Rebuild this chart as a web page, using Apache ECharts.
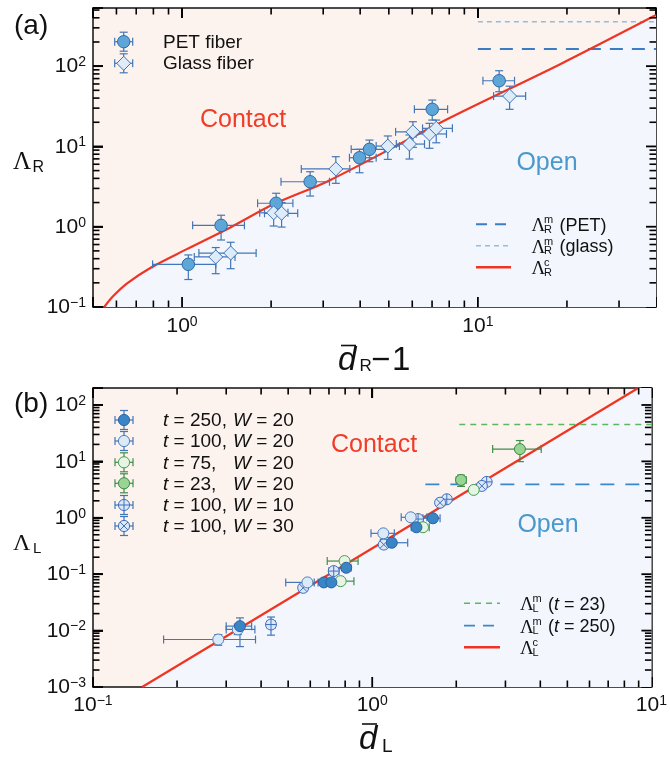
<!DOCTYPE html>
<html>
<head>
<meta charset="utf-8">
<script src="https://cdn.jsdelivr.net/npm/echarts@6/dist/echarts.min.js"></script>
<style>
html, body { margin: 0; padding: 0; background: #fff; }
#main { width: 670px; height: 757px; }
</style>
</head>
<body>
<div id="main"></div>
<script>
var SANS = 'Liberation Sans';
var SERIF = 'Liberation Serif';

// ---- panel (a) ----  [dR-1, LambdaR, xlo, xhi, ylo, yhi]
var petFiber = [
    [1.05, 0.34, 0.795, 1.30, 0.22, 0.445],
    [1.355, 1.04, 1.086, 1.625, 0.683, 1.39],
    [2.08, 1.96, 1.80, 2.37, 1.44, 2.61],
    [2.71, 3.63, 2.16, 3.15, 2.41, 4.84],
    [3.98, 7.23, 3.68, 4.53, 4.7, 9.2],
    [4.30, 9.2, 3.73, 4.83, 6.45, 12.0],
    [7.01, 29, 6.1, 7.9, 21.3, 37.8],
    [11.8, 65.8, 10.4, 13.3, 48, 87.7]
];
var glassFiber = [
    [1.30, 0.42, 1.10, 1.51, 0.26, 0.55],
    [1.46, 0.47, 1.14, 1.78, 0.30, 0.64],
    [2.04, 1.49, 1.83, 2.28, 1.02, 2.05],
    [2.17, 1.47, 1.90, 2.46, 0.99, 2.0],
    [3.31, 5.24, 2.53, 3.69, 3.47, 7.45],
    [4.96, 10.1, 4.53, 5.43, 6.9, 13.5],
    [5.87, 10.7, 5.3, 6.6, 6.97, 13.9],
    [6.03, 15.2, 5.27, 6.95, 9.75, 20.3],
    [6.86, 14.3, 6.18, 7.83, 9.48, 19.4],
    [7.23, 16.8, 6.5, 8.2, 11.1, 21.3],
    [12.8, 42.4, 11.3, 14.5, 29, 56.3]
];
// critical curve
var critA = [[0.546, 0.1], [0.581, 0.133], [0.652, 0.197], [0.786, 0.311], [1.034, 0.522],
    [1.457, 0.98], [2.037, 1.9], [3.15, 3.77], [8.02, 22.6], [18.9, 105], [40, 433]];
var maxPET = [[10, 163], [40, 163]];
var maxGlass = [[10, 357], [40, 357]];
var xRangeA = [0.5, 40];
var yRangeA = [0.1, 530];

// ---- panel (b) ----  [dL, LambdaL, xlo, xhi, ylo, yhi]
var t250w20 = [
    [0.336, 0.012, 0.30, 0.37, 0.0052, 0.0168],
    [0.671, 0.0715, 0.64, 0.70, 0.066, 0.077],
    [0.714, 0.0715, 0.68, 0.76, 0.066, 0.077],
    [0.807, 0.130, 0.78, 0.84, 0.12, 0.14],
    [1.175, 0.361, 1.07, 1.34, 0.33, 0.39],
    [1.44, 0.678, 1.38, 1.52, 0.63, 0.73],
    [1.65, 0.98, 1.52, 1.75, 0.91, 1.05]
];
var t100w20 = [
    [0.281, 0.00695, 0.179, 0.382, 0.0055, 0.0085],
    [0.33, 0.0105, 0.30, 0.38, 0.0085, 0.013],
    [0.586, 0.0715, 0.49, 0.62, 0.065, 0.078],
    [1.096, 0.53, 0.99, 1.20, 0.49, 0.57],
    [1.374, 1.02, 1.27, 1.57, 0.95, 1.1]
];
var t75w20 = [
    [0.771, 0.0753, 0.69, 0.86, 0.069, 0.082],
    [0.796, 0.171, 0.69, 0.89, 0.15, 0.19],
    [1.52, 0.68, 1.46, 1.60, 0.62, 0.74],
    [2.31, 3.12, 2.26, 2.36, 2.95, 3.3]
];
var t23w20 = [
    [2.08, 4.69, 2.0, 2.17, 3.6, 5.7],
    [3.38, 16.5, 2.70, 4.03, 9.9, 23.4]
];
var t100w10 = [
    [0.434, 0.0128, 0.42, 0.45, 0.0083, 0.0174],
    [0.728, 0.1135, 0.70, 0.76, 0.105, 0.122],
    [1.12, 0.361, 1.08, 1.16, 0.34, 0.38],
    [1.46, 0.95, 1.41, 1.51, 0.9, 1.0],
    [1.85, 2.13, 1.80, 1.90, 2.0, 2.26],
    [2.57, 4.33, 2.50, 2.64, 4.1, 4.6]
];
var t100w30 = [
    [0.566, 0.0573, 0.55, 0.58, 0.054, 0.061],
    [1.10, 0.335, 1.07, 1.13, 0.32, 0.35],
    [1.75, 1.85, 1.71, 1.80, 1.75, 1.95],
    [2.47, 3.67, 2.41, 2.53, 3.5, 3.85]
];
var critB = [[0.15, 0.001], [8.97, 200]];
var maxT23 = [[2.05, 45], [10, 45]];
var maxT250 = [[1.55, 3.9], [10, 3.9]];
var xRangeB = [0.1, 10];
var yRangeB = [0.001, 200];

// tick positions
var minorMult = [2, 3, 4, 5, 6, 7, 8, 9];
var decadesXA = [0.1, 1, 10];
var decadesYA = [0.1, 1, 10, 100];
var decadesXB = [0.1, 1];
var decadesYB = [0.001, 0.01, 0.1, 1, 10, 100];
var majorXA = [1, 10];
var majorYA = [1, 10, 100];
var majorXB = [1];
var majorYB = [0.01, 0.1, 1, 10, 100];

var RED = '#ee3524', PINK = '#fdf3ee', PALE = '#f3f7fd';
var BLUE_BAR = '#4276b8', GREEN_BAR = '#3f8c4c';

function minorTicks(decades, range) {
    var out = [];
    decades.forEach(function (d) {
        minorMult.forEach(function (m) {
            var v = m * d;
            if (v > range[0] * 1.0001 && v < range[1] * 0.9999) out.push(v);
        });
    });
    return out;
}

function powLabel(v) {
    var e = Math.round(Math.log(v) / Math.LN10);
    if (Math.abs(v / Math.pow(10, e) - 1) > 1e-6) return '';
    return '{b|10}{s|' + (e < 0 ? '\u2212' + (-e) : e) + '}';
}
var labelRich = {
    b: { fontSize: 21, fontFamily: SANS, color: '#111', verticalAlign: 'bottom', lineHeight: 22 },
    s: { fontSize: 14, fontFamily: SANS, color: '#111', verticalAlign: 'top', lineHeight: 14 }
};

function logAxis(grid, pos, range, labelMargin) {
    return {
        type: 'log', logBase: 10, gridIndex: grid, position: pos,
        min: range[0], max: range[1],
        axisLine: { show: true, onZero: false, lineStyle: { color: '#111', width: 1.5 } },
        axisTick: { show: true, inside: true, length: 10, lineStyle: { color: '#000', width: 1.8 } },
        minorTick: { show: false },
        splitLine: { show: false },
        axisLabel: labelMargin == null ? { show: false } : {
            show: true, margin: labelMargin, formatter: powLabel, rich: labelRich,
            showMinLabel: true, showMaxLabel: true
        }
    };
}

function errSeries(pts, color, gx, gy) {
    return {
        type: 'custom', xAxisIndex: gx, yAxisIndex: gy, silent: true, z: 3,
        data: pts, encode: { x: 0, y: 1 },
        renderItem: function (params, api) {
            var x = api.value(0), y = api.value(1), k = 4;
            var a = api.coord([api.value(2), y]), b = api.coord([api.value(3), y]);
            var c = api.coord([x, api.value(4)]), d = api.coord([x, api.value(5)]);
            function ln(x1, y1, x2, y2) {
                return { type: 'line', shape: { x1: x1, y1: y1, x2: x2, y2: y2 }, style: { stroke: color, lineWidth: 1.2 } };
            }
            return { type: 'group', children: [
                ln(a[0], a[1], b[0], b[1]), ln(a[0], a[1] - k, a[0], a[1] + k), ln(b[0], b[1] - k, b[0], b[1] + k),
                ln(c[0], c[1], d[0], d[1]), ln(c[0] - k, c[1], c[0] + k, c[1]), ln(d[0] - k, d[1], d[0] + k, d[1])
            ] };
        }
    };
}

function markSeries(pts, symbol, size, fill, edge, gx, gy) {
    return {
        type: 'scatter', xAxisIndex: gx, yAxisIndex: gy, symbol: symbol, symbolSize: size, z: 4, silent: true,
        data: pts.map(function (p) { return [p[0], p[1]]; }),
        itemStyle: { color: fill, borderColor: edge, borderWidth: 1, opacity: 1 }
    };
}

function hline(data, color, width, dash, gx, gy) {
    return {
        type: 'line', xAxisIndex: gx, yAxisIndex: gy, data: data, symbol: 'none', silent: true, z: 2,
        lineStyle: { color: color, width: width, type: dash }
    };
}

var plusSym = 'path://M10,0A10,10,0,1,1,10,20A10,10,0,1,1,10,0ZM0,10L20,10M10,0L10,20';
var crossSym = 'path://M10,0A10,10,0,1,1,10,20A10,10,0,1,1,10,0ZM2.93,2.93L17.07,17.07M2.93,17.07L17.07,2.93';

var series = [
    // panel (a)
    { type: 'line', xAxisIndex: 0, yAxisIndex: 0, data: critA, smooth: 0.3, symbol: 'none', silent: true, z: 1,
      lineStyle: { width: 0 }, areaStyle: { color: PALE, opacity: 1, origin: 'start' } },
    hline(maxPET, '#3b7dc4', 2, [13, 9], 0, 0),
    hline(maxGlass, '#8dbde6', 1.5, [5, 4], 0, 0),
    { type: 'line', xAxisIndex: 0, yAxisIndex: 0, data: critA, smooth: 0.3, symbol: 'none', silent: true, z: 2,
      lineStyle: { color: RED, width: 2.2 } },
    errSeries(petFiber, BLUE_BAR, 0, 0),
    errSeries(glassFiber, BLUE_BAR, 0, 0),
    markSeries(petFiber, 'circle', 12.5, '#5ea6d8', '#2f69a8', 0, 0),
    markSeries(glassFiber, 'diamond', 14, '#deebf8', '#3d74b8', 0, 0),
    // panel (b)
    { type: 'line', xAxisIndex: 2, yAxisIndex: 2, data: critB.concat([[xRangeB[1], yRangeB[1]]]), symbol: 'none',
      silent: true, z: 1, lineStyle: { width: 0 }, areaStyle: { color: PALE, opacity: 1, origin: 'start' } },
    hline(maxT23, '#5cb860', 1.6, [6, 5], 2, 2),
    hline(maxT250, '#3a88cc', 1.8, [14, 11], 2, 2),
    { type: 'line', xAxisIndex: 2, yAxisIndex: 2, data: critB, symbol: 'none', silent: true, z: 2,
      lineStyle: { color: RED, width: 2.2 } },
    errSeries(t100w10, BLUE_BAR, 2, 2),
    errSeries(t100w30, BLUE_BAR, 2, 2),
    errSeries(t100w20, BLUE_BAR, 2, 2),
    errSeries(t75w20, GREEN_BAR, 2, 2),
    errSeries(t23w20, GREEN_BAR, 2, 2),
    errSeries(t250w20, BLUE_BAR, 2, 2),
    markSeries(t100w10, plusSym, 11, '#dce8f6', '#3f6fc0', 2, 2),
    markSeries(t100w30, crossSym, 11, '#dce8f6', '#3f6fc0', 2, 2),
    markSeries(t100w20, 'circle', 11, '#dce9f7', '#4a7fc0', 2, 2),
    markSeries(t75w20, 'circle', 11, '#e5f5e1', '#4a9a58', 2, 2),
    markSeries(t23w20, 'circle', 11, '#98d492', '#3b8a46', 2, 2),
    markSeries(t250w20, 'circle', 11, '#3a85c5', '#2a62a4', 2, 2)
];

// ---- graphic texts / legends ----
function txt(x, y, text, size, family, color, opts) {
    opts = opts || {};
    return { type: 'text', x: x, y: y, silent: true, z: 100, style: {
        text: text, fontSize: size, fontFamily: family, fill: color || '#111',
        fontStyle: opts.italic ? 'italic' : 'normal',
        align: opts.align || 'left', verticalAlign: 'middle',
        textAlign: opts.align || 'left', textVerticalAlign: 'middle',
        rich: opts.rich
    } };
}
function seg(x1, y1, x2, y2, color, w, dash) {
    return { type: 'line', silent: true, z: 100, shape: { x1: x1, y1: y1, x2: x2, y2: y2 },
        style: { stroke: color, lineWidth: w, lineDash: dash || null } };
}
function legendMarker(cx, cy, kind, fill, edge, bar, r) {
    var k = 4, hx = 9, hy = 9.5;
    var g = [
        seg(cx - hx, cy, cx + hx, cy, bar, 1.2), seg(cx - hx, cy - k, cx - hx, cy + k, bar, 1.2),
        seg(cx + hx, cy - k, cx + hx, cy + k, bar, 1.2),
        seg(cx, cy - hy, cx, cy + hy, bar, 1.2), seg(cx - k, cy - hy, cx + k, cy - hy, bar, 1.2),
        seg(cx - k, cy + hy, cx + k, cy + hy, bar, 1.2)
    ];
    if (kind === 'diamond') {
        g.push({ type: 'polygon', silent: true, shape: { points: [[cx, cy - r], [cx + r, cy], [cx, cy + r], [cx - r, cy]] },
            style: { fill: fill, stroke: edge, lineWidth: 1 } });
    } else {
        g.push({ type: 'circle', silent: true, shape: { cx: cx, cy: cy, r: r },
            style: { fill: fill, stroke: edge, lineWidth: 1 } });
        var d = r * 0.707;
        if (kind === 'plus') {
            g.push(seg(cx - r, cy, cx + r, cy, edge, 1), seg(cx, cy - r, cx, cy + r, edge, 1));
        } else if (kind === 'cross') {
            g.push(seg(cx - d, cy - d, cx + d, cy + d, edge, 1), seg(cx - d, cy + d, cx + d, cy - d, edge, 1));
        }
    }
    g.forEach(function (e) { e.z = 101; });
    return g;
}
function lambdaLabel(x, y, sub, rest, restRich) {
    return [
        txt(x, y + 2, '\u039b', 19, SERIF),
        txt(x + 12.5, y - 4, 'm', 11, SANS),
        txt(x + 12.5, y + 5.5, sub, 11, SANS),
        txt(x + 28, y + 1.5, rest, 18, SANS, '#111', { rich: restRich })
    ];
}
function lambdaC(x, y, sub) {
    return [
        txt(x, y + 2, '\u039b', 19, SERIF),
        txt(x + 12.5, y - 4, 'c', 11, SANS),
        txt(x + 12.5, y + 5.5, sub, 11, SANS)
    ];
}
var itRich = {
    i: { fontSize: 19, fontFamily: SANS, fontStyle: 'italic', color: '#111' },
    n: { fontSize: 19, fontFamily: SANS, color: '#111' }
};
var itRich18 = {
    i: { fontSize: 18, fontFamily: SANS, fontStyle: 'italic', color: '#111' },
    n: { fontSize: 18, fontFamily: SANS, color: '#111' }
};

var g = [];
// panel labels
g.push(txt(14, 26, '(a)', 28, SANS), txt(14, 404, '(b)', 28, SANS));
// axis titles
g.push(txt(13, 162.5, '\u039b', 25, SERIF), txt(32.5, 168, 'R', 16, SANS));
g.push(txt(13, 544, '\u039b', 24, SERIF), txt(33, 548.5, 'L', 15, SANS));
g.push(txt(338, 361, 'd', 33, SANS, '#111', { italic: true }), seg(341, 345.5, 356, 345.5, '#111', 1.6),
    txt(359.5, 366.5, 'R', 17, SANS), txt(371, 361, '\u2212', 33, SANS), txt(392, 361, '1', 33, SANS));
g.push(txt(359, 739.5, 'd', 33, SANS, '#111', { italic: true }), seg(362, 724, 377, 724, '#111', 1.6),
    txt(382, 746.5, 'L', 19, SANS));
// region names
g.push(txt(243, 120, 'Contact', 25, SANS, '#f03c28', { align: 'center' }),
    txt(547, 163, 'Open', 25, SANS, '#4a98cc', { align: 'center' }),
    txt(374, 445, 'Contact', 25, SANS, '#f03c28', { align: 'center' }),
    txt(548, 525, 'Open', 25, SANS, '#4a98cc', { align: 'center' }));
// legend (a) markers
g = g.concat(legendMarker(123.7, 41.7, 'circle', '#5ea6d8', '#2f69a8', BLUE_BAR, 6.2));
g = g.concat(legendMarker(123.7, 63.3, 'diamond', '#deebf8', '#3d74b8', BLUE_BAR, 7));
g.push(txt(163, 42.5, 'PET fiber', 19, SANS), txt(163, 64, 'Glass fiber', 19, SANS));
// legend (a) lines
g.push(seg(476, 224.3, 511, 224.3, '#3b7dc4', 2, [11, 8]),
    seg(476, 245.7, 511, 245.7, '#8dbde6', 1.5, [5, 4]),
    seg(476, 267.3, 511, 267.3, RED, 2.4));
g = g.concat(lambdaLabel(531.5, 224.3, 'R', '(PET)'), lambdaLabel(531.5, 245.7, 'R', '(glass)'),
    lambdaC(531.5, 267.3, 'R'));
// legend (b) markers
var legB = [
    [420, 'circle', '#3a85c5', '#2a62a4', BLUE_BAR, '250,'],
    [441, 'circle', '#dce9f7', '#4a7fc0', BLUE_BAR, '100,'],
    [462.3, 'circle', '#e5f5e1', '#4a9a58', GREEN_BAR, '75,'],
    [483.3, 'circle', '#98d492', '#3b8a46', GREEN_BAR, '23,'],
    [505, 'plus', '#dce8f6', '#3f6fc0', BLUE_BAR, '100,'],
    [526, 'cross', '#dce8f6', '#3f6fc0', BLUE_BAR, '100,']
];
var legBW = ['20', '20', '20', '20', '10', '30'];
legB.forEach(function (r, i) {
    g = g.concat(legendMarker(124, r[0], r[1], r[2], r[3], r[4], 5.6));
    g.push(txt(163, r[0] + 1, '{i|t}{n| = ' + r[5] + '}', 19, SANS, '#111', { rich: itRich }),
        txt(233, r[0] + 1, '{i|W}{n| = ' + legBW[i] + '}', 19, SANS, '#111', { rich: itRich }));
});
// legend (b) lines
g.push(seg(464, 603.3, 500, 603.3, '#5cb860', 1.6, [6, 5]),
    seg(464, 625.7, 500, 625.7, '#3a88cc', 1.8, [11, 8]),
    seg(464, 647.3, 500, 647.3, RED, 2.4));
g = g.concat(lambdaLabel(520, 603.3, 'L', '{n|(}{i|t}{n| = 23)}', itRich18),
    lambdaLabel(520, 625.7, 'L', '{n|(}{i|t}{n| = 250)}', itRich18),
    lambdaC(520, 647.3, 'L'));

var chart = echarts.init(document.getElementById('main'), null, { renderer: 'canvas' });
chart.setOption({
    animation: false,
    backgroundColor: '#fff',
    grid: [
        { left: 93, top: 8, width: 563, height: 299, show: true, backgroundColor: PINK, borderWidth: 0 },
        { left: 93, top: 388, width: 563, height: 299, show: true, backgroundColor: PINK, borderWidth: 0 }
    ],
    xAxis: [
        logAxis(0, 'bottom', xRangeA, 8),
        logAxis(0, 'top', xRangeA, null),
        logAxis(1, 'bottom', xRangeB, 7),
        logAxis(1, 'top', xRangeB, null)
    ],
    yAxis: [
        logAxis(0, 'left', yRangeA, 7),
        logAxis(0, 'right', yRangeA, null),
        logAxis(1, 'left', yRangeB, 7),
        logAxis(1, 'right', yRangeB, null)
    ],
    series: series
});

// log ticks on all four sides, placed with the chart's own scales
function tickEls(xi, yi, xr, yr, xs, ys, L, w) {
    var out = [];
    var finder = { xAxisIndex: xi, yAxisIndex: yi };
    var lo = chart.convertToPixel(finder, [xr[0], yr[0]]);
    var hi = chart.convertToPixel(finder, [xr[1], yr[1]]);
    xs.forEach(function (v) {
        var px = chart.convertToPixel(finder, [v, yr[0]])[0];
        out.push(seg(px, lo[1], px, lo[1] - L, '#000', w), seg(px, hi[1], px, hi[1] + L, '#000', w));
    });
    ys.forEach(function (v) {
        var py = chart.convertToPixel(finder, [xr[0], v])[1];
        out.push(seg(lo[0], py, lo[0] + L, py, '#000', w), seg(hi[0], py, hi[0] - L, py, '#000', w));
    });
    return out;
}
var ticks = tickEls(0, 0, xRangeA, yRangeA, minorTicks(decadesXA, xRangeA), minorTicks(decadesYA, yRangeA), 6.5, 1.6)
    .concat(tickEls(0, 0, xRangeA, yRangeA, majorXA, majorYA, 10, 1.8))
    .concat(tickEls(2, 2, xRangeB, yRangeB, minorTicks(decadesXB, xRangeB), minorTicks(decadesYB, yRangeB), 6.5, 1.6))
    .concat(tickEls(2, 2, xRangeB, yRangeB, majorXB, majorYB, 10, 1.8));
chart.setOption({ graphic: { elements: g.concat(ticks) } });
</script>
</body>
</html>
